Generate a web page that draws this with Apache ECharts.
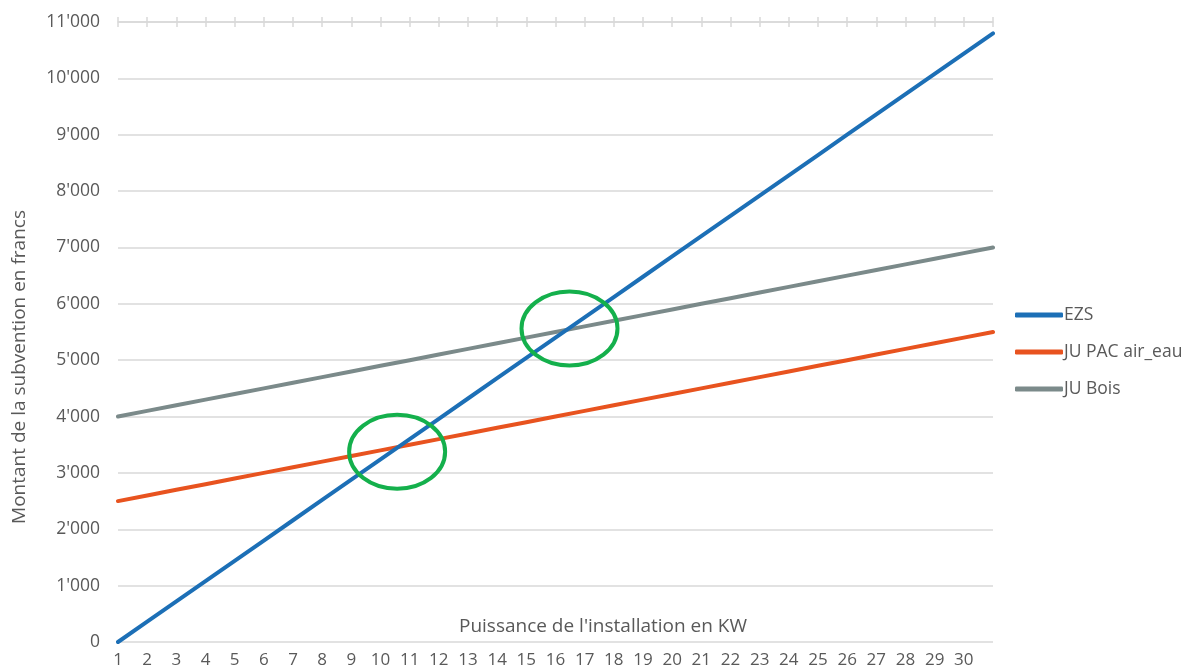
<!DOCTYPE html>
<html>
<head>
<meta charset="utf-8">
<script src="https://cdn.jsdelivr.net/npm/echarts@6/dist/echarts.min.js"></script>
<style>
  html, body { margin: 0; padding: 0; background: #fff; }
  #chart { width: 1184px; height: 671px; }
</style>
</head>
<body>
<div id="chart"></div>
<script>
// Installed power in kW (31 points; the last one carries no label)
const categories = ['1','2','3','4','5','6','7','8','9','10','11','12','13','14','15','16',
  '17','18','19','20','21','22','23','24','25','26','27','28','29','30',''];

const ezs = [0, 360, 720, 1080, 1440, 1800, 2160, 2520, 2880, 3240, 3600, 3960, 4320, 4680,
  5040, 5400, 5760, 6120, 6480, 6840, 7200, 7560, 7920, 8280, 8640, 9000, 9360, 9720,
  10080, 10440, 10800];
const juPac = [2500, 2600, 2700, 2800, 2900, 3000, 3100, 3200, 3300, 3400, 3500, 3600, 3700,
  3800, 3900, 4000, 4100, 4200, 4300, 4400, 4500, 4600, 4700, 4800, 4900, 5000, 5100, 5200,
  5300, 5400, 5500];
const juBois = [4000, 4100, 4200, 4300, 4400, 4500, 4600, 4700, 4800, 4900, 5000, 5100, 5200,
  5300, 5400, 5500, 5600, 5700, 5800, 5900, 6000, 6100, 6200, 6300, 6400, 6500, 6600, 6700,
  6800, 6900, 7000];

const seriesNames = ['EZS', 'JU PAC air_eau', 'JU Bois'];
const seriesColors = ['#1c6fb6', '#e8531f', '#7b8a8a'];

// Break-even points highlighted with ellipses: [category index, value]
const crossings = [[9.57, 3375], [15.48, 5562]];

const yTicks = { min: 0, max: 11000, interval: 1000 };

const FONT = '"Open Sans", sans-serif';
const TEXT = '#595959';
const GRID_LINE = '#d9d9d9';

function fmt(v) {
  if (v === 0) return '0';
  const s = String(v);
  return s.slice(0, s.length - 3) + "'" + s.slice(-3);
}

const chart = echarts.init(document.getElementById('chart'), null, { renderer: 'canvas' });

const topAxisBase = {
  type: 'category',
  data: categories,
  position: 'top',
  boundaryGap: false,
  axisLabel: { show: false },
  splitLine: { show: false }
};

chart.setOption({
  animation: false,
  backgroundColor: '#fff',
  grid: { left: 118, right: 191, top: 22, bottom: 29, containLabel: false },
  legend: {
    orient: 'vertical',
    left: 1010,
    top: 298,
    itemGap: 13,
    itemWidth: 48,
    itemHeight: 5,
    icon: 'roundRect',
    textStyle: { fontFamily: FONT, fontSize: 17.5, color: TEXT, padding: [0, 0, 0, -4], lineHeight: 24 },
    data: seriesNames
  },
  xAxis: [
    {
      type: 'category',
      data: categories,
      position: 'bottom',
      boundaryGap: false,
      axisLine: { show: false },
      axisTick: { show: false },
      axisLabel: { fontFamily: FONT, fontSize: 17, color: TEXT, margin: 10, interval: 0 },
      splitLine: { show: false }
    },
    Object.assign({}, topAxisBase, {
      axisLine: { show: true, lineStyle: { color: GRID_LINE, width: 1.5 } },
      axisTick: { show: true, inside: false, length: 5, alignWithLabel: true, interval: 0, lineStyle: { color: GRID_LINE, width: 1.5 } }
    }),
    Object.assign({}, topAxisBase, {
      axisLine: { show: false },
      axisTick: { show: true, inside: true, length: 5, alignWithLabel: true, interval: 0, lineStyle: { color: GRID_LINE, width: 1.5 } }
    })
  ],
  yAxis: {
    type: 'value',
    min: yTicks.min,
    max: yTicks.max,
    interval: yTicks.interval,
    axisLine: { show: false },
    axisTick: { show: false },
    axisLabel: { fontFamily: FONT, fontSize: 17.5, color: TEXT, margin: 18, formatter: fmt },
    splitLine: { lineStyle: { color: GRID_LINE, width: 1.5 } }
  },
  series: [ezs, juPac, juBois].map((d, i) => ({
    name: seriesNames[i],
    type: 'line',
    data: d,
    xAxisIndex: 0,
    symbol: 'none',
    color: seriesColors[i],
    lineStyle: { width: 4, color: seriesColors[i], cap: 'round' },
    z: 3 + (i === 0 ? 1 : 0)
  }))
});

// Place axis titles and the break-even ellipses in pixel space
function toPixel(idx, val) {
  const i0 = Math.floor(idx), i1 = Math.min(i0 + 1, categories.length - 1);
  const p0 = chart.convertToPixel({ xAxisIndex: 0, yAxisIndex: 0 }, [i0, val]);
  const p1 = chart.convertToPixel({ xAxisIndex: 0, yAxisIndex: 0 }, [i1, val]);
  const t = idx - i0;
  return [p0[0] + (p1[0] - p0[0]) * t, p0[1]];
}

const ellipses = crossings.map(c => {
  const p = toPixel(c[0], c[1]);
  return {
    type: 'ellipse',
    shape: { cx: p[0], cy: p[1], rx: 48, ry: 37 },
    style: { fill: 'none', stroke: '#14b04c', lineWidth: 4 },
    z: 100
  };
});

chart.setOption({
  graphic: ellipses.concat([
    {
      type: 'text',
      x: 603, y: 627,
      style: {
        text: "Puissance de l'installation en KW",
        font: '19px ' + FONT, fill: TEXT,
        textAlign: 'center', textVerticalAlign: 'middle'
      }
    },
    {
      type: 'text',
      x: 20, y: 367,
      rotation: Math.PI / 2,
      style: {
        text: 'Montant de la subvention en francs',
        font: '19px ' + FONT, fill: TEXT,
        textAlign: 'center', textVerticalAlign: 'middle'
      }
    }
  ])
});
</script>
</body>
</html>
